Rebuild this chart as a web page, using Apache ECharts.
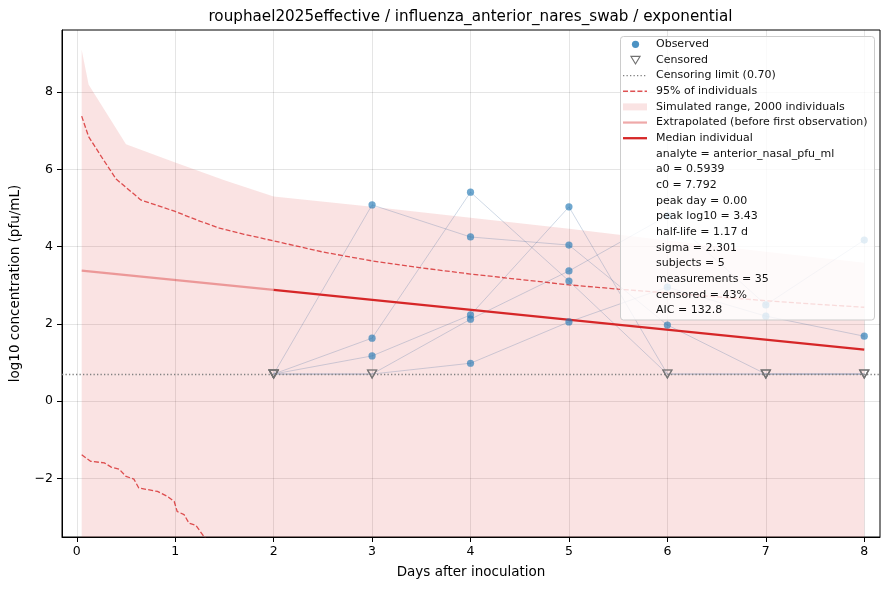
<!DOCTYPE html>
<html>
<head>
<meta charset="utf-8">
<script src="https://cdn.jsdelivr.net/npm/echarts@6.0.0/dist/echarts.min.js"></script>
<style>
html,body{margin:0;padding:0;background:#fff;}
#g_chart{width:889px;height:590px;}
</style>
</head>
<body>
<div id="g_chart"></div>
<script>
// 数据
var days = [2, 3, 4, 5, 6, 7, 8];
var subject1 = [0.7, 5.08, 4.25, 4.04, 1.97, 0.7, 0.7];
var subject2 = [0.7, 1.63, 5.41, 3.11, 0.7, 0.7, 0.7];
var subject3 = [0.7, 1.17, 2.23, 5.03, 0.7, 0.7, 0.7];
var subject4 = [0.7, 0.7, 2.12, 3.37, 4.8, 2.49, 4.17];
var subject5 = [0.7, 0.7, 0.98, 2.05, 2.95, 2.2, 1.68];
// 1 = censored at limit
var censored1 = [1, 0, 0, 0, 0, 1, 1];
var censored2 = [1, 0, 0, 0, 1, 1, 1];
var censored3 = [1, 0, 0, 0, 1, 1, 1];
var censored4 = [1, 1, 0, 0, 0, 0, 0];
var censored5 = [1, 1, 0, 0, 0, 0, 0];
var censorLimit = 0.7;

var bandX = [0.05, 0.12, 0.5, 1, 1.5, 2, 3, 4, 5, 6, 7, 8];
var bandUpper = [9.1, 8.2, 6.65, 6.18, 5.72, 5.3, 5.03, 4.75, 4.46, 4.16, 3.87, 3.58];

var hiX = [0.05, 0.12, 0.25, 0.4, 0.65, 1, 1.25, 1.45, 1.7, 2, 2.5, 3, 3.5, 4, 4.5, 5, 5.5, 6, 6.5, 7, 7.5, 8];
var hiY = [7.38, 6.85, 6.33, 5.75, 5.21, 4.91, 4.66, 4.48, 4.32, 4.15, 3.86, 3.63, 3.45, 3.29, 3.15, 3.01, 2.9, 2.8, 2.7, 2.6, 2.51, 2.43];
var loX = [0.05, 0.14, 0.28, 0.35, 0.43, 0.5, 0.58, 0.63, 0.82, 0.92, 0.99, 1.02, 1.09, 1.14, 1.21, 1.29, 1.36];
var loY = [-1.39, -1.56, -1.6, -1.71, -1.76, -1.95, -2.02, -2.25, -2.34, -2.47, -2.6, -2.86, -2.94, -3.16, -3.22, -3.5, -3.75];

var extX = [0.05, 2];
var extY = [3.38, 2.88];
var medX = [2, 8];
var medY = [2.88, 1.33];

var xTicks = [0, 1, 2, 3, 4, 5, 6, 7, 8];
var yTicks = [-2, 0, 2, 4, 6, 8];

var legendNames = ['Observed', 'Censored', 'Censoring limit (0.70)', '95% of individuals',
	'Simulated range, 2000 individuals', 'Extrapolated (before first observation)', 'Median individual'];
var statsLines = ['analyte = anterior_nasal_pfu_ml', 'a0 = 0.5939', 'c0 = 7.792', 'peak day = 0.00',
	'peak log10 = 3.43', 'half-life = 1.17 d', 'sigma = 2.301', 'subjects = 5',
	'measurements = 35', 'censored = 43%', 'AIC = 132.8'];

var titleText = 'rouphael2025effective / influenza_anterior_nares_swab / exponential';

function zip(xs, ys){
	var out = [];
	for(var i=0;i<xs.length;i++){
		out.push([xs[i], ys[i]]);
	}
	return out;
}

var subjects = [subject1, subject2, subject3, subject4, subject5];
var censors = [censored1, censored2, censored3, censored4, censored5];
var obsPts = [], cenPts = [];
for(var s=0;s<subjects.length;s++){
	for(var d=0;d<days.length;d++){
		if(censors[s][d]) cenPts.push([days[d], subjects[s][d]]);
		else obsPts.push([days[d], subjects[s][d]]);
	}
}

var FONT = 'DejaVu Sans';
var red = '#d62728';
var bandColor = 'rgba(214,39,40,0.13)';
var dashColor = 'rgba(214,39,40,0.8)';
var extColor = 'rgba(214,39,40,0.4)';
var subjColor = 'rgba(70,110,160,0.33)';
var obsColor = 'rgba(31,119,180,0.8)';
var cenColor = '#707070';

function minusFmt(v){
	return v < 0 ? '\u2212' + (-v) : String(v);
}

var series = [];
series.push({
	type: 'line', data: zip(bandX, bandUpper), showSymbol: false, silent: true,
	lineStyle: {width: 0}, areaStyle: {color: bandColor, origin: 'start', opacity: 1}, z: 1
});
for(var k=0;k<subjects.length;k++){
	series.push({
		type: 'line', data: zip(days, subjects[k]), showSymbol: false, silent: true,
		lineStyle: {color: subjColor, width: 0.8}, z: 2
	});
}
series.push({
	type: 'line', data: zip(hiX, hiY), showSymbol: false, silent: true,
	lineStyle: {color: dashColor, width: 1.3, type: [5, 2.2]}, z: 3
});
series.push({
	type: 'line', data: zip(loX, loY), showSymbol: false, silent: true,
	lineStyle: {color: dashColor, width: 1.3, type: [5, 2.2]}, z: 3
});
series.push({
	type: 'line', data: zip(extX, extY), showSymbol: false, silent: true,
	lineStyle: {color: extColor, width: 2.2}, z: 4
});
series.push({
	type: 'line', data: zip(medX, medY), showSymbol: false, silent: true,
	lineStyle: {color: red, width: 2.3}, z: 4,
	markLine: {
		silent: true, symbol: 'none', label: {show: false},
		lineStyle: {color: '#808080', width: 1.3, type: [1.3, 2.2]},
		data: [{yAxis: censorLimit}]
	}
});
series.push({
	type: 'scatter', data: obsPts, symbol: 'circle', symbolSize: 7.2,
	itemStyle: {color: obsColor}, z: 6
});
series.push({
	type: 'scatter', data: cenPts, symbol: 'triangle', symbolRotate: 180, symbolSize: [9, 8],
	itemStyle: {color: 'rgba(255,255,255,0)', borderColor: cenColor, borderWidth: 1.2}, z: 6
});

// 图例
var LX = 620.5, LY = 36.5, LW = 254, LH = 283.5;
var rowTop = 44.3, rowGap = 15.65, iconL = 623, iconR = 647, textX = 656;
var g = [];
g.push({type: 'rect', shape: {x: LX, y: LY, width: LW, height: LH, r: 3},
	style: {fill: 'rgba(255,255,255,0.8)', stroke: '#cccccc', lineWidth: 1}, z: 100});
function rowY(i){ return rowTop + i*rowGap; }
g.push({type: 'circle', shape: {cx: 635.5, cy: rowY(0), r: 3.6}, style: {fill: obsColor}, z: 101});
g.push({type: 'polygon', shape: {points: [[631, rowY(1)-3.5], [640, rowY(1)-3.5], [635.5, rowY(1)+4]]},
	style: {fill: 'none', stroke: cenColor, lineWidth: 1.2}, z: 101});
g.push({type: 'line', shape: {x1: iconL, y1: rowY(2), x2: iconR, y2: rowY(2)},
	style: {stroke: '#808080', lineWidth: 1.3, lineDash: [1.3, 2.2]}, z: 101});
g.push({type: 'line', shape: {x1: iconL, y1: rowY(3), x2: iconR, y2: rowY(3)},
	style: {stroke: dashColor, lineWidth: 1.3, lineDash: [5, 2.2]}, z: 101});
g.push({type: 'rect', shape: {x: iconL, y: rowY(4)-3.5, width: iconR-iconL, height: 7},
	style: {fill: bandColor}, z: 101});
g.push({type: 'line', shape: {x1: iconL, y1: rowY(5), x2: iconR, y2: rowY(5)},
	style: {stroke: extColor, lineWidth: 2.2}, z: 101});
g.push({type: 'line', shape: {x1: iconL, y1: rowY(6), x2: iconR, y2: rowY(6)},
	style: {stroke: red, lineWidth: 2.3}, z: 101});
var allRows = legendNames.concat(statsLines);
for(var r=0;r<allRows.length;r++){
	g.push({type: 'text', x: textX, y: rowY(r), z: 101,
		style: {text: allRows[r], fill: '#111', font: '11px "' + FONT + '"', verticalAlign: 'middle'}});
}
g.push({type: 'text', x: 470.5, y: 17, z: 101,
	style: {text: titleText, fill: '#000', font: '15.2px "' + FONT + '"', align: 'center', verticalAlign: 'middle'}});

var option = {
	animation: false,
	backgroundColor: '#fff',
	textStyle: {fontFamily: FONT},
	grid: {left: 61, top: 30, right: 9, bottom: 53, show: true, borderColor: '#000', borderWidth: 1, backgroundColor: 'transparent'},
	xAxis: {
		type: 'value', min: -0.15, max: 8.16, minInterval: 1, maxInterval: 1,
		name: 'Days after inoculation', nameLocation: 'middle', nameGap: 28,
		nameTextStyle: {fontSize: 13.5, color: '#000', fontFamily: FONT},
		axisLine: {show: true, onZero: false, lineStyle: {color: '#000', width: 1}},
		axisTick: {show: true, length: 5, customValues: xTicks, lineStyle: {color: '#000'}},
		axisLabel: {fontSize: 12.5, color: '#000', margin: 8, fontFamily: FONT, customValues: xTicks,
			formatter: function(v){ return xTicks.indexOf(v) >= 0 ? minusFmt(v) : ''; }},
		splitLine: {show: true, lineStyle: {color: 'rgba(0,0,0,0.1)', width: 1}}
	},
	yAxis: {
		type: 'value', min: -3.52, max: 9.61, minInterval: 2, maxInterval: 2,
		name: 'log10 concentration (pfu/mL)', nameLocation: 'middle', nameGap: 40,
		nameTextStyle: {fontSize: 13.5, color: '#000', fontFamily: FONT},
		axisLine: {show: true, onZero: false, lineStyle: {color: '#000', width: 1}},
		axisTick: {show: true, length: 5, customValues: yTicks, lineStyle: {color: '#000'}},
		axisLabel: {fontSize: 12.5, color: '#000', margin: 9, fontFamily: FONT, customValues: yTicks,
			formatter: function(v){ return yTicks.indexOf(v) >= 0 ? minusFmt(v) : ''; }},
		splitLine: {show: true, lineStyle: {color: 'rgba(0,0,0,0.1)', width: 1}}
	},
	graphic: g,
	series: series
};
var myChart = echarts.init(document.getElementById('g_chart'));
myChart.setOption(option);
</script>
</body>
</html>
